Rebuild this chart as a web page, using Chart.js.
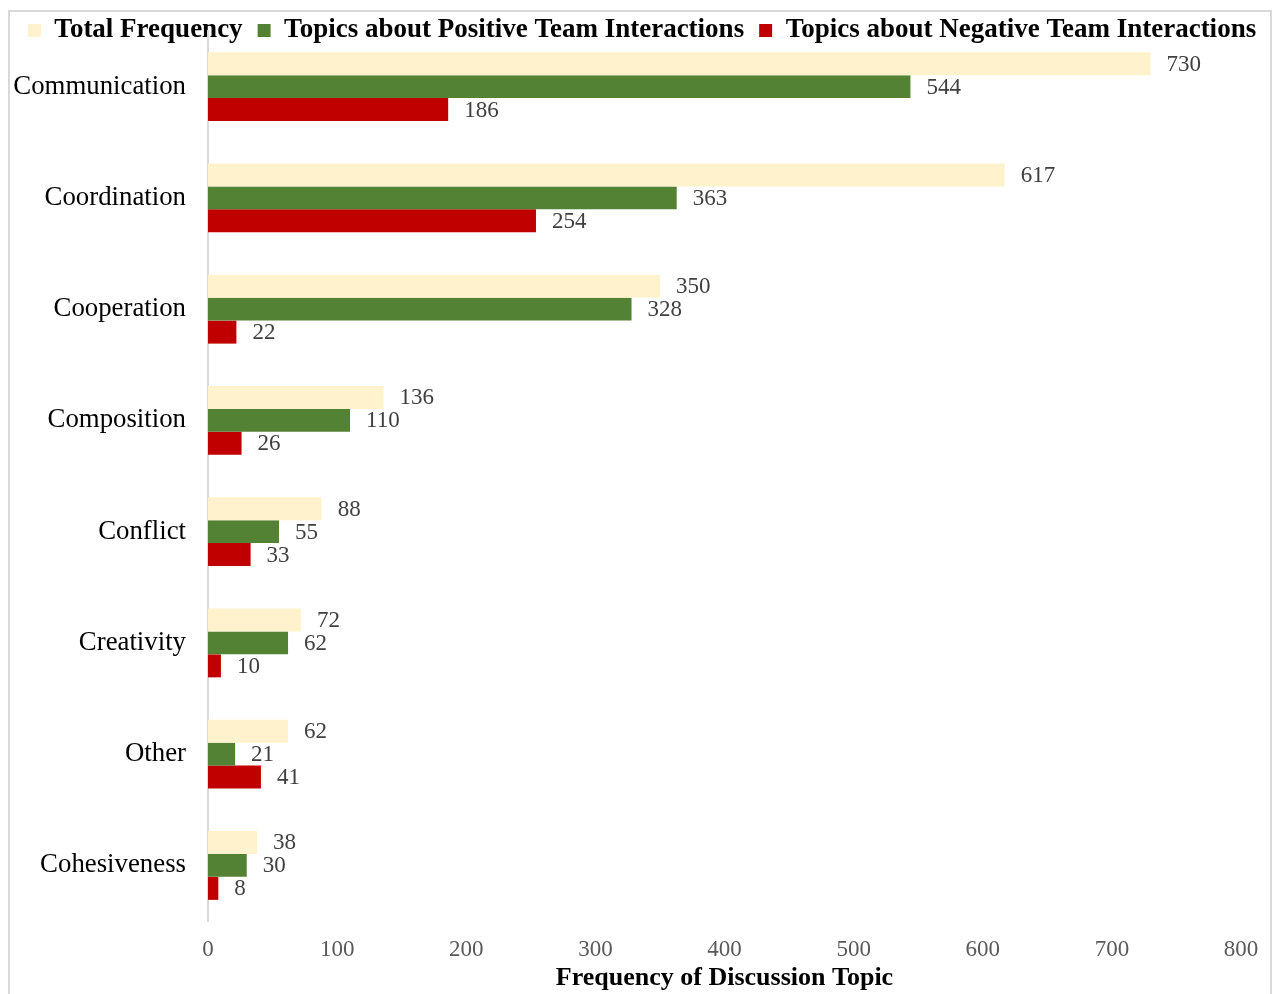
<!DOCTYPE html>
<html><head><meta charset="utf-8">
<script src="https://cdn.jsdelivr.net/npm/chart.js@4/dist/chart.umd.min.js"></script>
<style>
html,body{margin:0;padding:0;background:#fff;}
#wrap{position:relative;width:1276px;height:994px;}
#frame{position:absolute;left:8px;top:10px;width:1264px;height:1000px;border:2px solid #d9d9d9;border-bottom:none;box-sizing:border-box;}
canvas{position:absolute;left:0;top:0;}
</style></head>
<body><div id="wrap"><div id="frame"></div><canvas id="c" width="1276" height="994"></canvas></div>
<script>
const categories = ["Communication","Coordination","Cooperation","Composition","Conflict","Creativity","Other","Cohesiveness"];
const totalFrequency = [730,617,350,136,88,72,62,38];
const positiveTopics = [544,363,328,110,55,62,21,30];
const negativeTopics = [186,254,22,26,33,10,41,8];
const seriesNames = ["Total Frequency","Topics about Positive Team Interactions","Topics about Negative Team Interactions"];
const xTicksMax = 800, xTickStep = 100;
const xTitle = "Frequency of Discussion Topic";

const SERIF = "'Liberation Serif','Times New Roman',serif";

const legendHeight = {
  id:'legendHeight',
  beforeInit(chart){
    const lg = chart.legend;
    if(!lg) return;
    const orig = lg.fit;
    lg.fit = function(){ orig.call(this); this.height = 29; };
    lg.draw = function(){ this._draw(); };
  }
};
const valueLabels = {
  id:'valueLabels',
  afterDatasetsDraw(chart){
    const ctx = chart.ctx;
    ctx.save();
    ctx.font = "23px " + SERIF;
    ctx.fillStyle = "#404040";
    ctx.textAlign = "left";
    ctx.textBaseline = "middle";
    chart.data.datasets.forEach((ds,i)=>{
      const meta = chart.getDatasetMeta(i);
      meta.data.forEach((bar,j)=>{
        ctx.fillText(String(ds.data[j]), bar.x + 16, bar.y + 1);
      });
    });
    ctx.restore();
  }
};

new Chart(document.getElementById('c'), {
  type:'bar',
  data:{
    labels: categories,
    datasets:[
      {label:seriesNames[0], data:totalFrequency, backgroundColor:'#FFF2CC'},
      {label:seriesNames[1], data:positiveTopics, backgroundColor:'#548235'},
      {label:seriesNames[2], data:negativeTopics, backgroundColor:'#C00000'}
    ]
  },
  options:{
    indexAxis:'y',
    responsive:false,
    animation:false,
    devicePixelRatio:1,
    layout:{padding:{left:8,right:0,top:2,bottom:0}},
    datasets:{bar:{barPercentage:1,categoryPercentage:0.62}},
    plugins:{
      legend:{
        position:'top',
        labels:{
          font:{family:SERIF,size:27,weight:'bold'},
          color:'#000',
          boxWidth:13, boxHeight:13,
          padding:15
        }
      },
      tooltip:{enabled:false}
    },
    scales:{
      x:{
        min:0, max:xTicksMax,
        ticks:{stepSize:xTickStep, color:'#595959', font:{family:SERIF,size:23}, padding:15},
        grid:{display:false, drawTicks:false},
        border:{display:false},
        title:{display:true, text:xTitle, color:'#000', font:{family:SERIF,size:26,weight:'bold'}, padding:{top:0,bottom:0}},
        afterFit(s){ s.height = 73; s.paddingLeft = 0; s.paddingRight = 35; }
      },
      y:{
        ticks:{color:'#000', font:{family:SERIF,size:26.8}, padding:22},
        grid:{display:false, drawTicks:false},
        border:{display:true, color:'#d9d9d9', width:2},
        afterFit(s){ s.width = 200; s.paddingTop = 0; s.paddingBottom = 0; }
      }
    }
  },
  plugins:[legendHeight, valueLabels]
});
</script></body></html>
